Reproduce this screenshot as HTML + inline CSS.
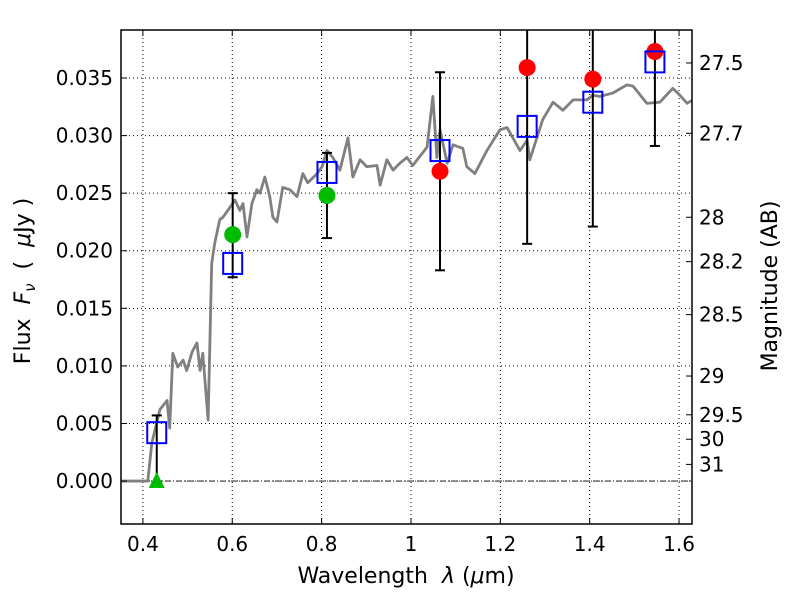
<!DOCTYPE html>
<html><head><meta charset="utf-8"><style>
body{margin:0;background:#fff;}
svg{display:block;font-family:"DejaVu Sans","Liberation Sans",sans-serif;}
</style></head><body>
<svg id="chart" width="800" height="600" viewBox="0 0 800 600" xmlns="http://www.w3.org/2000/svg">
<rect x="0" y="0" width="800" height="600" fill="#fff"/>
<g id="grid"></g>
<g id="plot"></g>
<g id="axes"></g>
<text x="406" y="583" font-size="22" text-anchor="middle">Wavelength&#160;&#160;<tspan font-style="italic">λ</tspan> (<tspan font-style="italic">μ</tspan>m)</text>
<text transform="translate(30,281) rotate(-90)" font-size="22" text-anchor="middle">Flux&#160;&#160;<tspan font-style="italic">F</tspan><tspan font-style="italic" font-size="15" dy="5">ν</tspan><tspan dy="-5">&#160;&#160;(&#160;&#160;</tspan><tspan font-style="italic">μ</tspan>Jy )</text>
<text transform="translate(777,286) rotate(-90)" font-size="22" text-anchor="middle">Magnitude (AB)</text>
</svg>
<script>
const specWave=[0.351,0.411,0.420,0.438,0.454,0.460,0.467,0.478,0.490,0.498,0.510,0.521,0.528,0.534,0.546,0.554,0.561,0.572,0.579,0.590,0.606,0.617,0.624,0.633,0.644,0.655,0.662,0.673,0.684,0.691,0.700,0.713,0.729,0.745,0.758,0.769,0.790,0.801,0.812,0.825,0.841,0.859,0.870,0.886,0.901,0.924,0.931,0.946,0.960,0.975,0.991,1.004,1.036,1.049,1.058,1.065,1.081,1.094,1.116,1.125,1.143,1.170,1.199,1.215,1.244,1.260,1.266,1.295,1.318,1.340,1.363,1.394,1.407,1.423,1.452,1.483,1.497,1.528,1.557,1.586,1.602,1.618,1.631];
const specFlux=[0,0,0.0033,0.0062,0.0070,0.0046,0.0111,0.0099,0.0105,0.0096,0.0112,0.0120,0.0096,0.0111,0.0053,0.0189,0.0207,0.0227,0.0229,0.0235,0.0244,0.0235,0.0241,0.0212,0.0241,0.0253,0.0250,0.0264,0.0247,0.0229,0.0225,0.0255,0.0253,0.0247,0.0267,0.0259,0.0267,0.0273,0.0287,0.0281,0.0270,0.0298,0.0264,0.0279,0.0273,0.0274,0.0257,0.0279,0.0270,0.0276,0.0281,0.0274,0.0290,0.0334,0.0281,0.0305,0.0276,0.0292,0.0289,0.0273,0.0267,0.0287,0.0305,0.0307,0.0287,0.0296,0.0279,0.0314,0.0329,0.0322,0.0331,0.0331,0.0335,0.0334,0.0337,0.0344,0.0343,0.0328,0.0329,0.0341,0.0335,0.0328,0.0331];
const bandWave=[0.431,0.601,0.812,1.065,1.260,1.407,1.546];
const modelFlux=[0.0042,0.0189,0.0268,0.0287,0.0308,0.0329,0.0364];
const errLow=[-0.0001,0.0177,0.0211,0.0183,0.0206,0.0221,0.0291];
const errHigh=[0.0057,0.0250,0.0285,0.0355,0.045,0.045,0.045];
const detWave=[0.601,0.812];
const detFlux=[0.0214,0.0248];
const redWave=[1.065,1.260,1.407,1.546];
const redFlux=[0.0269,0.0359,0.0349,0.0373];
const limWave=[0.431];
const limFlux=[0];
const xTicks=[0.4,0.6,0.8,1.0,1.2,1.4,1.6];
const xTickLabels=["0.4","0.6","0.8","1","1.2","1.4","1.6"];
const yTicks=[0,0.005,0.01,0.015,0.02,0.025,0.03,0.035];
const yTickLabels=["0.000","0.005","0.010","0.015","0.020","0.025","0.030","0.035"];
const magTicks=[27.5,27.7,28,28.2,28.5,29,29.5,30,31];
const magTickLabels=["27.5","27.7","28","28.2","28.5","29","29.5","30","31"];

const L=121,R=692,T=30,B=524;
const xMin=0.351,xMax=1.629,yMin=-0.00373,yMax=0.03917;
const X=v=>L+(v-xMin)/(xMax-xMin)*(R-L);
const Y=v=>B-(v-yMin)/(yMax-yMin)*(B-T);
const NS="http://www.w3.org/2000/svg";
function mk(tag,attrs,parent){const e=document.createElementNS(NS,tag);for(const k in attrs)e.setAttribute(k,attrs[k]);parent.appendChild(e);return e;}
const grid=document.getElementById('grid'),plot=document.getElementById('plot'),axes=document.getElementById('axes');

xTicks.forEach(t=>{const g=mk('line',{x1:X(t),x2:X(t),y1:T,y2:B,stroke:'#000','stroke-width':1,'stroke-dasharray':'1,3'},grid);

});
yTicks.forEach(t=>{const g=mk('line',{x1:L,x2:R,y1:Y(t),y2:Y(t),stroke:'#000','stroke-width':1,'stroke-dasharray':'1,3'},grid);

});

const clip=mk('clipPath',{id:'pc'},plot);mk('rect',{x:L,y:T,width:R-L,height:B-T},clip);
const pg=mk('g',{'clip-path':'url(#pc)'},plot);
const zl=mk('line',{x1:L,x2:R,y1:Y(0),y2:Y(0),stroke:'#000','stroke-width':0.8,'stroke-dasharray':'6,2,1,2'},pg);


const sp=mk('polyline',{points:specWave.map((w,i)=>X(w)+','+Y(specFlux[i])).join(' '),fill:'none',stroke:'#808080','stroke-width':2.8,'stroke-linejoin':'round'},pg);



bandWave.forEach((w,i)=>{const x=X(w),y1=Y(errLow[i]),y2=Y(errHigh[i]);
const e=mk('g',{},pg);


mk('line',{x1:x,x2:x,y1:y1,y2:y2,stroke:'#000','stroke-width':2},e);
mk('line',{x1:x-5,x2:x+5,y1:y1,y2:y1,stroke:'#000','stroke-width':2},e);
mk('line',{x1:x-5,x2:x+5,y1:y2,y2:y2,stroke:'#000','stroke-width':2},e);});

limWave.forEach((w,i)=>{const x=X(w),y=Y(limFlux[i]);
const p=mk('polygon',{points:`${x},${y-9} ${x-8},${y+7} ${x+8},${y+7}`,fill:'#00bb00'},pg);

});
detWave.forEach((w,i)=>{const c=mk('circle',{cx:X(w),cy:Y(detFlux[i]),r:8.5,fill:'#00bb00'},pg);

});
redWave.forEach((w,i)=>{const c=mk('circle',{cx:X(w),cy:Y(redFlux[i]),r:8.5,fill:'#ff0000'},pg);

});
bandWave.forEach((w,i)=>{const r=mk('rect',{x:X(w)-9.5,y:Y(modelFlux[i])-10.5,width:19,height:21,fill:'none',stroke:'#0000ff','stroke-width':2},pg);

});

const fr=mk('rect',{x:L,y:T,width:R-L,height:B-T,fill:'none',stroke:'#000','stroke-width':1.5},axes);


xTicks.forEach((t,i)=>{const x=X(t);
mk('line',{x1:x,x2:x,y1:B,y2:B-6,stroke:'#000'},axes);
mk('line',{x1:x,x2:x,y1:T,y2:T+6,stroke:'#000'},axes);
const tx=mk('text',{x:x,y:B+27,'font-size':20,'text-anchor':'middle'},axes);tx.textContent=xTickLabels[i];

});
yTicks.forEach((t,i)=>{const y=Y(t);
mk('line',{x1:L,x2:L+6,y1:y,y2:y,stroke:'#000'},axes);
const tx=mk('text',{x:L-8,y:y+7,'font-size':20,'text-anchor':'end'},axes);tx.textContent=yTickLabels[i];

});
magTicks.forEach((m,i)=>{const y=Y(Math.pow(10,(23.9-m)/2.5));
mk('line',{x1:R,x2:R-6,y1:y,y2:y,stroke:'#000'},axes);
const tx=mk('text',{x:R+7,y:y+7,'font-size':20,'text-anchor':'start'},axes);tx.textContent=magTickLabels[i];

});
</script>
</body></html>
